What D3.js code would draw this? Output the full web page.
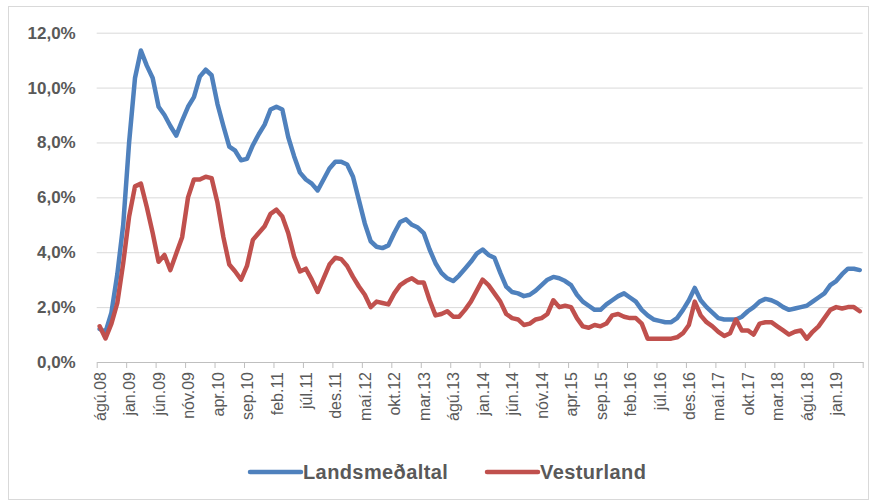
<!DOCTYPE html>
<html>
<head>
<meta charset="utf-8">
<script src="https://cdn.jsdelivr.net/npm/d3@7"></script>
<style>
  body { margin: 0; background: #fff; }
  svg { display: block; font-family: Arial, "Liberation Sans", sans-serif; }
</style>
</head>
<body>
<svg id="chart" width="879" height="503"></svg>
<script>
// month names (Icelandic), series start ágú.08, 130 months
var monthNames = ["jan", "feb", "mar", "apr", "maí", "jún", "júl", "ágú", "sep", "okt", "nóv", "des"];
var startYear = 2008, startMonth = 7;
var yTicks = [0, 2, 4, 6, 8, 10, 12];

var landsmedaltal = [
  1.2, 1.1, 1.8, 3.2, 5.0, 8.0, 10.35, 11.35, 10.8, 10.35,
  9.3, 9.0, 8.6, 8.25, 8.8, 9.3, 9.65, 10.4, 10.65, 10.45,
  9.4, 8.6, 7.85, 7.7, 7.35, 7.4, 7.9, 8.3, 8.65, 9.2,
  9.3, 9.2, 8.2, 7.5, 6.9, 6.65, 6.5, 6.25, 6.65, 7.05,
  7.3, 7.3, 7.2, 6.75, 5.9, 5.05, 4.4, 4.2, 4.15, 4.25,
  4.7, 5.1, 5.2, 5.0, 4.9, 4.7, 4.1, 3.6, 3.25, 3.05,
  2.95, 3.15, 3.4, 3.65, 3.95, 4.1, 3.9, 3.8, 3.25, 2.75,
  2.55, 2.5, 2.4, 2.45, 2.6, 2.8, 3.0, 3.1, 3.05, 2.95,
  2.8, 2.45, 2.2, 2.05, 1.9, 1.9, 2.1, 2.25, 2.4, 2.5,
  2.35, 2.2, 1.9, 1.7, 1.55, 1.5, 1.45, 1.45, 1.6, 1.9,
  2.25, 2.7, 2.25, 2.0, 1.8, 1.6, 1.55, 1.55, 1.55, 1.65,
  1.85, 2.0, 2.2, 2.3, 2.25, 2.15, 2.0, 1.9, 1.95, 2.0,
  2.05, 2.2, 2.35, 2.5, 2.8, 2.95, 3.2, 3.4, 3.4, 3.35
];

var vesturland = [
  1.3, 0.86, 1.4, 2.15, 3.6, 5.3, 6.4, 6.5, 5.65, 4.7,
  3.65, 3.9, 3.35, 3.95, 4.55, 6.0, 6.65, 6.65, 6.75, 6.7,
  5.8, 4.55, 3.55, 3.3, 3.0, 3.5, 4.45, 4.7, 4.95, 5.4,
  5.55, 5.3, 4.7, 3.85, 3.3, 3.4, 3.0, 2.55, 3.05, 3.55,
  3.8, 3.75, 3.5, 3.1, 2.75, 2.45, 2.0, 2.2, 2.15, 2.1,
  2.5, 2.8, 2.95, 3.05, 2.9, 2.9, 2.25, 1.7, 1.75, 1.85,
  1.65, 1.65, 1.9, 2.2, 2.6, 3.0, 2.8, 2.5, 2.2, 1.75,
  1.6, 1.55, 1.35, 1.4, 1.55, 1.6, 1.75, 2.25, 2.0, 2.05,
  2.0, 1.6, 1.3, 1.25, 1.35, 1.3, 1.4, 1.7, 1.75, 1.65,
  1.6, 1.6, 1.4, 0.85, 0.85, 0.85, 0.85, 0.85, 0.9, 1.05,
  1.35, 2.2, 1.7, 1.45, 1.3, 1.1, 0.95, 1.05, 1.55, 1.15,
  1.15, 1.0, 1.4, 1.45, 1.45, 1.3, 1.15, 1.0, 1.1, 1.15,
  0.85, 1.1, 1.3, 1.6, 1.9, 2.0, 1.95, 2.0, 2.0, 1.85
];

var seriesNames = ["Landsmeðaltal", "Vesturland"];
var seriesColors = ["#4f81bd", "#c0504d"];

// build category labels e.g. "ágú.08"
var categories = landsmedaltal.map(function(d, i) {
  var m = startMonth + i;
  var yr = startYear + Math.floor(m / 12);
  return monthNames[m % 12] + "." + String(yr % 100).padStart(2, "0");
});

var svg = d3.select("#chart");
var plotLeft = 96.7, plotRight = 862.7, plotTop = 32.7, plotBottom = 362;

// frame
svg.append("rect").attr("x", 8.5).attr("y", 6.5).attr("width", 860).attr("height", 493)
  .attr("fill", "none").attr("stroke", "#d9d9d9");

var x = d3.scaleLinear().domain([0, categories.length]).range([plotLeft, plotRight]);
var y = d3.scaleLinear().domain([0, 12]).range([plotBottom, plotTop]);
var half = (x(1) - x(0)) / 2;

// gridlines
svg.append("g")
  .attr("transform", "translate(" + plotLeft + ",0)")
  .call(d3.axisLeft(y).tickValues(yTicks.slice(1)).tickSize(-(plotRight - plotLeft)).tickFormat(""))
  .call(function(g) { g.select(".domain").remove(); })
  .selectAll("line").attr("stroke", "#d9d9d9");

// y labels
svg.append("g")
  .attr("transform", "translate(" + plotLeft + ",0)")
  .call(d3.axisLeft(y).tickValues(yTicks).tickSize(0).tickPadding(21)
    .tickFormat(function(d) { return d.toFixed(1).replace(".", ",") + "%"; }))
  .call(function(g) { g.select(".domain").remove(); })
  .selectAll("text")
  .attr("fill", "#595959")
  .style("font-size", "17px")
  .style("font-weight", "bold");

// x axis, tick every 5 months
var xTickVals = d3.range(0, categories.length + 1, 5);
var xAxis = svg.append("g")
  .attr("transform", "translate(0," + plotBottom + ")")
  .call(d3.axisBottom(x).tickValues(xTickVals).tickSize(6).tickSizeOuter(0)
    .tickFormat(function(d) { return d < categories.length ? categories[d] : ""; }));
xAxis.select(".domain").attr("stroke", "#bfbfbf");
xAxis.selectAll("line").attr("stroke", "#bfbfbf");
xAxis.selectAll("text")
  .attr("fill", "#595959")
  .style("font-size", "16px")
  .attr("text-anchor", "end")
  .attr("transform", "rotate(-90)")
  .attr("x", -10)
  .attr("y", half)
  .attr("dy", "0.35em");

// lines
var line = d3.line()
  .x(function(d, i) { return x(i) + half; })
  .y(function(d) { return y(d); });

[landsmedaltal, vesturland].forEach(function(s, k) {
  svg.append("path")
    .datum(s)
    .attr("fill", "none")
    .attr("stroke", seriesColors[k])
    .attr("stroke-width", 4.5)
    .attr("stroke-linejoin", "round")
    .attr("stroke-linecap", "round")
    .attr("d", line);
});

// legend
var legendX = [250, 487];
seriesNames.forEach(function(name, k) {
  var g = svg.append("g").attr("transform", "translate(" + legendX[k] + ",472)");
  g.append("line").attr("x1", 0).attr("x2", 51).attr("y1", 0).attr("y2", 0)
    .attr("stroke", seriesColors[k]).attr("stroke-width", 4.5).attr("stroke-linecap", "round");
  g.append("text").attr("x", 53).attr("y", 0).attr("dy", "0.36em")
    .attr("fill", "#595959")
    .style("font-size", "20px").style("font-weight", "bold").style("letter-spacing", "0.4px")
    .text(name);
});
</script>
</body>
</html>
